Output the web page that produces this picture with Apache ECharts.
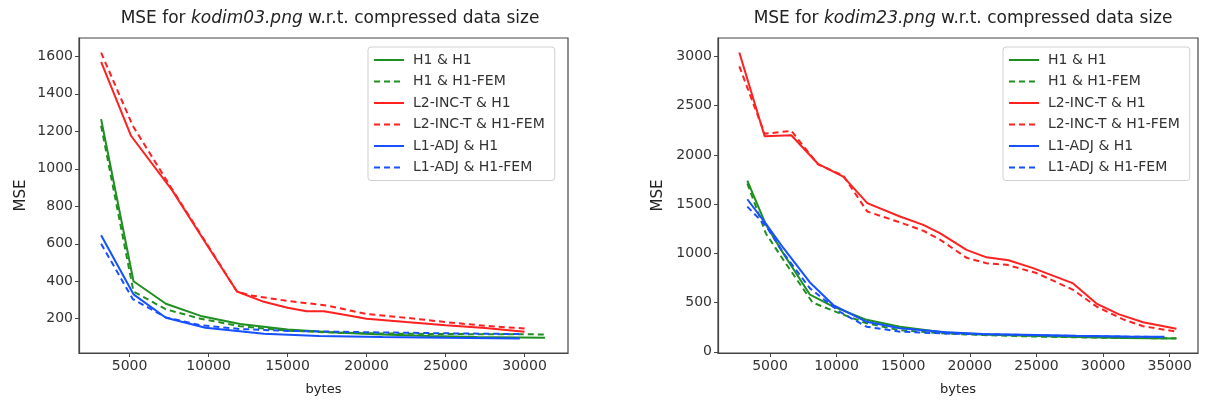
<!DOCTYPE html>
<html>
<head>
<meta charset="utf-8">
<script src="https://cdn.jsdelivr.net/npm/echarts@6/dist/echarts.min.js"></script>
<style>html,body{margin:0;padding:0;background:#fff}#c{width:1206px;height:403px}</style>
</head>
<body>
<div id="c"></div>
<script>
// ---- kodim03 (left) ----
const k03_H1_H1 = [[3200,1265],[5250,400],[7300,280],[9500,215],[12000,172],[15000,142],[18000,126],[21000,116],[24000,108],[27000,103],[29700,100],[31300,98]];
const k03_H1_H1FEM = [[3200,1230],[5250,345],[7300,250],[9500,200],[12000,160],[15000,136],[18000,126],[21000,121],[25000,118],[29700,117],[31300,116]];
const k03_L2_H1 = [[3200,1570],[5100,1175],[7700,885],[10000,580],[11800,345],[13500,290],[15000,258],[16200,240],[17300,240],[18500,222],[20000,200],[22500,182],[25000,165],[27500,150],[30000,130]];
const k03_L2_H1FEM = [[3200,1620],[5200,1230],[7700,890],[10000,585],[11800,345],[12600,325],[15000,295],[17500,270],[20000,225],[22500,205],[25000,182],[27500,162],[30000,148]];
const k03_L1_H1 = [[3200,645],[5250,330],[7300,205],[9800,152],[13500,120],[17000,108],[21000,102],[25000,98],[29700,95]];
const k03_L1_H1FEM = [[3200,600],[5200,305],[7300,207],[9500,165],[12000,145],[15000,135],[20000,128],[25000,122],[29700,118]];
// ---- kodim23 (right) ----
const k23_H1_H1 = [[3300,1740],[4700,1290],[6000,1000],[8000,580],[9750,460],[12250,325],[14750,255],[18250,195],[21000,175],[25000,160],[28000,150],[31600,140],[35500,135]];
const k23_H1_H1FEM = [[3300,1710],[4700,1200],[6000,935],[8200,500],[10250,390],[12250,290],[14750,220],[18250,185],[21000,170],[25000,155],[28000,148],[31600,140],[35500,138]];
const k23_L2_H1 = [[2700,3040],[4600,2190],[6600,2200],[8600,1910],[10500,1780],[12300,1510],[14750,1375],[16500,1290],[17750,1205],[19750,1035],[21250,960],[22900,930],[24750,850],[27750,695],[29500,490],[31200,380],[33000,300],[35500,235]];
const k23_L2_H1FEM = [[2700,2900],[4600,2215],[6600,2245],[8600,1905],[10500,1790],[12300,1425],[14750,1315],[16500,1230],[17750,1140],[19750,955],[21250,900],[22750,885],[25000,800],[27750,630],[29500,460],[31500,330],[33000,260],[35500,205]];
const k23_L1_H1 = [[3300,1550],[4700,1300],[6000,1055],[8000,705],[9750,475],[12250,305],[14750,240],[18250,200],[21000,180],[25000,170],[28000,162],[31600,155],[34600,152]];
const k23_L1_H1FEM = [[3300,1475],[4700,1280],[6000,1005],[8000,645],[10250,405],[12250,255],[14750,205],[18250,185],[21000,178],[25000,168],[28000,160],[31600,155],[34600,150]];

const seriesNames = ['H1 & H1','H1 & H1-FEM','L2-INC-T & H1','L2-INC-T & H1-FEM','L1-ADJ & H1','L1-ADJ & H1-FEM'];
const k03_xticks = [5000,10000,15000,20000,25000,30000];
const k03_yticks = [200,400,600,800,1000,1200,1400,1600];
const k23_xticks = [5000,10000,15000,20000,25000,30000,35000];
const k23_yticks = [0,500,1000,1500,2000,2500,3000];
const titleImgs = ['kodim03.png','kodim23.png'];

const GREEN='#1f8f1f', RED='#ff2020', BLUE='#1650ff';
const colors=[GREEN,GREEN,RED,RED,BLUE,BLUE];
const types=['solid','dashed','solid','dashed','solid','dashed'];
const FONT='DejaVu Sans';

function mkSeries(data,i,gi){
  return {type:'line',name:seriesNames[i],xAxisIndex:gi,yAxisIndex:gi,data:data,symbol:'circle',showSymbol:false,
    lineStyle:{color:colors[i],width:2,type:types[i]==='dashed'?[6,4]:'solid'},itemStyle:{color:colors[i]},animation:false,z:2};
}
function fmt(v){return String(v);}
function mkX(gi,min,max,ticks){
  return {type:'value',gridIndex:gi,min:min,max:max,name:'bytes',nameLocation:'middle',nameGap:30,
    nameTextStyle:{fontFamily:FONT,fontSize:13,color:'#222'},
    axisLine:{show:true,onZero:false,lineStyle:{color:'#444',width:1.2}},
    axisTick:{show:true,length:4,customValues:ticks,lineStyle:{color:'#444'}},
    axisLabel:{customValues:ticks,formatter:fmt,fontFamily:FONT,fontSize:14,color:'#333',margin:6},
    splitLine:{show:false}};
}
function mkY(gi,min,max,ticks,gap){
  return {type:'value',gridIndex:gi,min:min,max:max,name:'MSE',nameLocation:'middle',nameGap:gap,nameRotate:90,
    nameTextStyle:{fontFamily:FONT,fontSize:15,color:'#222'},
    axisLine:{show:true,onZero:false,lineStyle:{color:'#444',width:1.2}},
    axisTick:{show:true,length:4,customValues:ticks,lineStyle:{color:'#444'}},
    axisLabel:{customValues:ticks,formatter:fmt,fontFamily:FONT,fontSize:14,color:'#333',margin:6},
    splitLine:{show:false}};
}
function mkTitle(cx,img){
  return {text:'{a|MSE for }{b|'+img+'}{a| w.r.t. compressed data size}',left:cx,top:5,textAlign:'center',
    textStyle:{fontWeight:'normal',rich:{a:{fontFamily:FONT,fontSize:17,fontWeight:'normal',color:'#222'},b:{fontFamily:FONT,fontSize:17,fontWeight:'normal',fontStyle:'italic',color:'#222'}}}};
}
function mkLegend(left){
  return {orient:'vertical',left:left,top:47,itemWidth:30,itemHeight:10,itemGap:7.5,padding:[6,10,6,5],
    borderColor:'#d0d0d0',borderWidth:1,borderRadius:3,backgroundColor:'rgba(255,255,255,0.8)',
    itemStyle:{opacity:0},
    textStyle:{fontFamily:FONT,fontSize:14,color:'#333',padding:[0,0,0,4]},data:seriesNames,selectedMode:false};
}
const chart=echarts.init(document.getElementById('c'),null,{renderer:'canvas'});
const s=[];
[k03_H1_H1,k03_H1_H1FEM,k03_L2_H1,k03_L2_H1FEM,k03_L1_H1,k03_L1_H1FEM].forEach((d,i)=>s.push(mkSeries(d,i,0)));
[k23_H1_H1,k23_H1_H1FEM,k23_L2_H1,k23_L2_H1FEM,k23_L1_H1,k23_L1_H1FEM].forEach((d,i)=>s.push(mkSeries(d,i,1)));
chart.setOption({
  animation:false,
  backgroundColor:'#fff',
  title:[mkTitle(325,titleImgs[0]),mkTitle(958,titleImgs[1])],
  legend:[mkLegend(368),mkLegend(1003)],
  grid:[{left:79,right:638,top:38,bottom:50,show:true,borderColor:'#444',borderWidth:1.2,containLabel:false},
        {left:718,right:8,top:38,bottom:50,show:true,borderColor:'#444',borderWidth:1.2,containLabel:false}],
  xAxis:[mkX(0,1800,32750,k03_xticks),mkX(1,1100,37120,k23_xticks)],
  yAxis:[mkY(0,17,1698,k03_yticks,50),mkY(1,-12,3188,k23_yticks,52)],
  series:s
});
</script>
</body>
</html>
